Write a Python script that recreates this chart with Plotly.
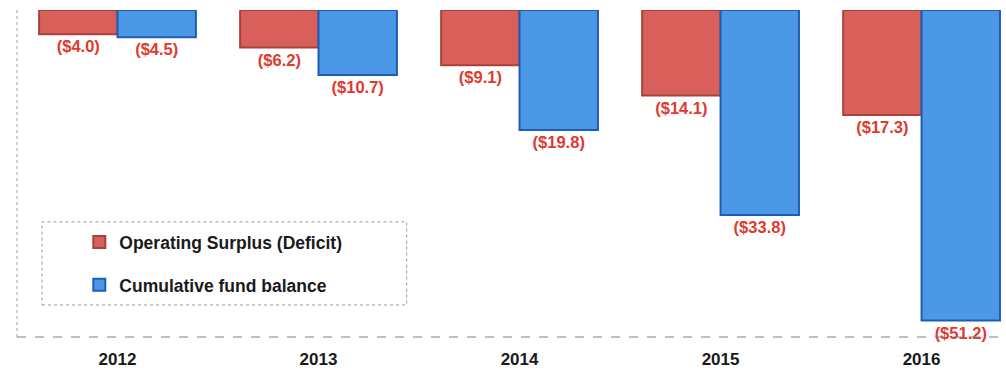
import plotly.graph_objects as go

years = ["2012", "2013", "2014", "2015", "2016"]
operating = [-4.0, -6.2, -9.1, -14.1, -17.3]
cumulative = [-4.5, -10.7, -19.8, -33.8, -51.2]
series_names = ["Operating Surplus (Deficit)", "Cumulative fund balance"]

FONT = "Liberation Sans, Arial, sans-serif"
RED = "#D9605A"
RED_EDGE = "#A8403C"
BLUE = "#4A98E6"
BLUE_EDGE = "#1E5CB8"
LABEL_RED = "#E0392E"


def fmt(v):
    return f"(${abs(v):.1f})"


fig = go.Figure()
for name, vals, col, edge, grp in [
    (series_names[0], operating, RED, RED_EDGE, "a"),
    (series_names[1], cumulative, BLUE, BLUE_EDGE, "b"),
]:
    fig.add_trace(go.Bar(
        x=years, y=vals, name=f"<b>{name}</b>", legendgroup=grp,
        marker=dict(color=col, line=dict(color=edge, width=2)),
        text=[fmt(v) for v in vals], textposition="outside",
        textfont=dict(family=FONT, size=16.5, color=LABEL_RED),
        texttemplate="<b>%{text}</b>", cliponaxis=False,
    ))

# dashed legend box and frame lines
shapes = [
    dict(type="rect", xref="paper", yref="paper", x0=0.0253, x1=0.394, y0=0.098, y1=0.352,
         line=dict(color="#9A9A9A", width=1, dash="dot"), fillcolor="rgba(0,0,0,0)"),
    dict(type="line", xref="paper", yref="paper", x0=0, x1=0, y0=0, y1=1,
         line=dict(color="#A0A0A0", width=1, dash="dot")),
    dict(type="line", xref="paper", yref="paper", x0=0, x1=1, y0=0, y1=0,
         line=dict(color="#808080", width=1, dash="dash")),
]

fig.update_layout(
    width=1006, height=371,
    margin=dict(l=17, r=0, t=10, b=34),
    paper_bgcolor="white", plot_bgcolor="white",
    barmode="group", bargap=0.22, bargroupgap=0,
    showlegend=True,
    legend=dict(x=0.063, y=0.345, xanchor="left", yanchor="top",
                bgcolor="rgba(0,0,0,0)", borderwidth=0,
                traceorder="grouped", tracegroupgap=17,
                font=dict(family=FONT, size=17.5, color="#1a1a1a"),
                itemsizing="constant"),
    font=dict(family=FONT),
    xaxis=dict(type="category", range=[-0.5, 4.42], showline=False, showgrid=False,
               zeroline=False, ticks="", ticklabelstandoff=10,
               tickfont=dict(family=FONT, size=17, color="#1a1a1a"),
               tickvals=years, ticktext=[f"<b>{y}</b>" for y in years]),
    xaxis2=dict(overlaying="x", side="top", range=[-0.5, 4.42], showline=True,
                linecolor="black", linewidth=2, ticks="inside", ticklen=5,
                tickcolor="black", tickwidth=2, tickvals=[-0.5, 0.5, 1.5, 2.5, 3.5, 4.5],
                showticklabels=False, showgrid=False, zeroline=False),
    yaxis=dict(range=[-53.9, 0], visible=False, showgrid=False, zeroline=False),
    shapes=shapes,
)

fig.write_html("out.html")
